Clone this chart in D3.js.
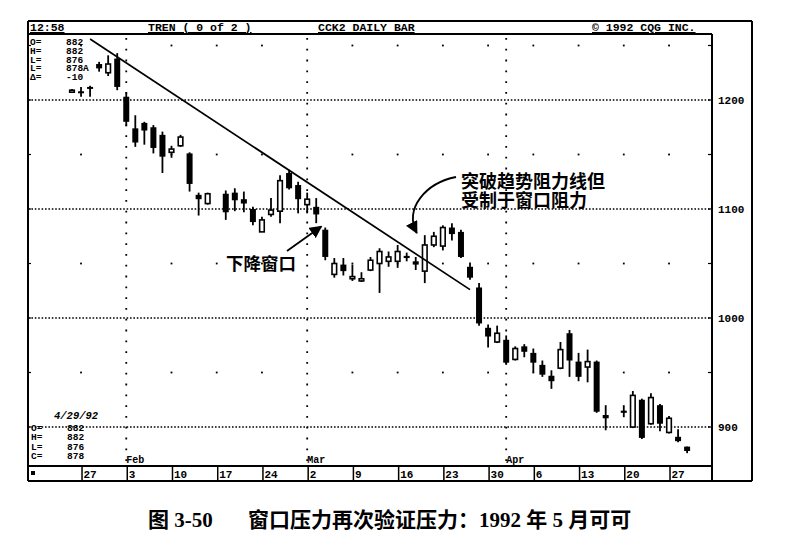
<!DOCTYPE html>
<html>
<head>
<meta charset="utf-8">
<script src="https://cdn.jsdelivr.net/npm/d3@7"></script>
<style>
body { margin:0; background:#fff; }
svg { display:block; }
.mono { font-family: "Liberation Mono", "DejaVu Sans Mono", monospace; font-weight: bold; fill: #000; }
.cjk { font-family: "Noto Sans CJK SC", sans-serif; font-weight: bold; fill: #000; }
</style>
</head>
<body>
<svg id="chart" width="795" height="548"></svg>
<script>
// daily bars, CCK2 (May cocoa)
var dates = ["1992-01-24","1992-01-27","1992-01-28","1992-01-29","1992-01-30","1992-01-31",
  "1992-02-03","1992-02-04","1992-02-05","1992-02-06","1992-02-07",
  "1992-02-10","1992-02-11","1992-02-12","1992-02-13","1992-02-14",
  "1992-02-18","1992-02-19","1992-02-20","1992-02-21",
  "1992-02-24","1992-02-25","1992-02-26","1992-02-27","1992-02-28",
  "1992-03-02","1992-03-03","1992-03-04","1992-03-05","1992-03-06",
  "1992-03-09","1992-03-10","1992-03-11","1992-03-12","1992-03-13",
  "1992-03-16","1992-03-17","1992-03-18","1992-03-19","1992-03-20",
  "1992-03-23","1992-03-24","1992-03-25","1992-03-26","1992-03-27",
  "1992-03-30","1992-03-31","1992-04-01","1992-04-02","1992-04-03",
  "1992-04-06","1992-04-07","1992-04-08","1992-04-09","1992-04-10",
  "1992-04-13","1992-04-14","1992-04-15","1992-04-16",
  "1992-04-20","1992-04-21","1992-04-22","1992-04-23","1992-04-24",
  "1992-04-27","1992-04-28","1992-04-29"];
var opens  = [1209,1208,1212,1233,1225,1238, 1203,1174,1179,1175,1168, 1152,1158,1151,1113,1105,
  1114,1115,1109,1100, 1079,1095,1098,1133,1122, 1104,1102,1081,1040,1049, 1036,1034,1044,1050,1052,
  1052,1057,1052,1043,1067, 1066,1083,1079,1047,1028, 991,978,980,962,974, 968,957,947,954,986,
  960,955,960,911, 915,900,925,903,920, 895,891,882];
var highs  = [1210,1212,1213,1235,1241,1243, 1207,1186,1180,1177,1171, 1158,1168,1152,1115,1115,
  1117,1119,1116,1102, 1093,1110,1131,1136,1125, 1115,1110,1083,1055,1055, 1049,1042,1056,1064,1061,
  1067,1060,1056,1076,1079, 1085,1087,1081,1051,1032, 994,993,984,974,976, 972,961,952,978,989,
  968,971,961,920, 920,933,926,931,921, 910,898,882];
var lows   = [1208,1203,1203,1226,1222,1209, 1176,1157,1159,1151,1133, 1147,1157,1116,1094,1104,
  1090,1098,1097,1085, 1079,1093,1087,1118,1096, 1096,1087,1053,1037,1039, 1034,1033,1043,1023,1047,
  1046,1052,1044,1032,1065, 1062,1071,1055,1035,993, 973,977,957,961,964, 950,946,935,953,946,
  942,941,913,897, 909,899,889,902,896, 894,886,876];
var closes = [1209,1207,1211,1229,1233,1212, 1180,1161,1172,1156,1148, 1155,1166,1123,1109,1114,
  1097,1108,1105,1088, 1090,1099,1126,1119,1109, 1109,1095,1056,1050,1043, 1038,1036,1053,1061,1056,
  1061,1055,1049,1067,1075, 1083,1077,1056,1037,995, 983,986,959,972,969, 959,948,942,971,961,
  946,960,914,908, 913,929,890,927,903, 908,887,878];

var priceTicks = [900, 1000, 1100, 1200];
var halfTicks = [950, 1050, 1150, 1250];
var weekDates = ["1992-01-27","1992-02-03","1992-02-10","1992-02-17","1992-02-24","1992-03-02",
  "1992-03-09","1992-03-16","1992-03-23","1992-03-30","1992-04-06","1992-04-13","1992-04-20","1992-04-27"];
var weekLabels = ["27","3","10","17","24","2","9","16","23","30","6","13","20","27"];
var monthDates = ["1992-02-03","1992-03-02","1992-04-01"];
var monthLabels = ["Feb","Mar","Apr"];
var trendDates = ["1992-01-28","1992-03-26"];
var trendPrices = [1256, 1026];
var lastBar = ["882","882","876","878"];

var svg = d3.select("#chart");
var pL = 28, pR = 712, pT = 34, pB = 466, outR = 752, outT = 21, outB = 481;

// every weekday on the axis, holidays keep their slot
var parse = d3.utcParse("%Y-%m-%d"), fmt = d3.utcFormat("%Y-%m-%d");
var weekdays = d3.utcDays(parse("1992-01-20"), parse("1992-05-02"))
  .filter(function(d){ return d.getUTCDay() % 6 !== 0; }).map(fmt);

var x = d3.scalePoint().domain(weekdays).range([35.8, 705.2]);
var y = d3.scaleLinear().domain([900, 1200]).range([427, 100]);

var bars = dates.map(function(d, i){
  return {date:d, o:opens[i], h:highs[i], l:lows[i], c:closes[i]};
});

svg.append("clipPath").attr("id","plotclip").append("rect")
  .attr("x", pL).attr("y", pT).attr("width", pR-pL).attr("height", pB-pT);

// grid
var grid = svg.append("g");
grid.selectAll("line.h").data(priceTicks).enter().append("line")
  .attr("x1", pL).attr("x2", pR)
  .attr("y1", function(d){ return y(d); }).attr("y2", function(d){ return y(d); })
  .attr("stroke","#000").attr("stroke-width",1.6).attr("stroke-dasharray","1.6,1.8");
grid.selectAll("line.m").data(monthDates).enter().append("line")
  .attr("x1", function(d){ return x(d); }).attr("x2", function(d){ return x(d); })
  .attr("y1", pT+4).attr("y2", pB)
  .attr("stroke","#000").attr("stroke-width",1.8).attr("stroke-dasharray","1.8,9");

var dots = [];
halfTicks.forEach(function(p){
  weekDates.forEach(function(w){ if (monthDates.indexOf(w) < 0) dots.push([w, p]); });
});
grid.selectAll("rect.dot").data(dots).enter().append("rect")
  .attr("x", function(d){ return x(d[0]) - 0.9; })
  .attr("y", function(d){ return y(d[1]) - 0.9; })
  .attr("width",1.8).attr("height",1.8).attr("fill","#000")
  .attr("clip-path","url(#plotclip)");

// border ticks
var tickVals = halfTicks.concat(priceTicks);
svg.selectAll("line.tk").data(tickVals).enter().append("line")
  .attr("x1", pR-4).attr("x2", pR)
  .attr("y1", function(d){ return y(d); }).attr("y2", function(d){ return y(d); })
  .attr("stroke","#000").attr("stroke-width",1.2);
svg.selectAll("line.tkl").data(tickVals).enter().append("line")
  .attr("x1", pL).attr("x2", pL+3)
  .attr("y1", function(d){ return y(d); }).attr("y2", function(d){ return y(d); })
  .attr("stroke","#000").attr("stroke-width",1.2);

// candles
var candles = svg.append("g").attr("clip-path","url(#plotclip)");
var c = candles.selectAll("g").data(bars).enter().append("g");
c.append("line")
  .attr("x1", function(d){ return x(d.date); }).attr("x2", function(d){ return x(d.date); })
  .attr("y1", function(d){ return y(d.h); }).attr("y2", function(d){ return y(d.l); })
  .attr("stroke","#000").attr("stroke-width",1.8);
c.append("rect")
  .attr("x", function(d){ return x(d.date) - (d.c < d.o ? 3 : 2.3); })
  .attr("width", function(d){ return d.c < d.o ? 6 : 4.6; })
  .attr("y", function(d){ return y(Math.max(d.o, d.c)); })
  .attr("height", function(d){ return Math.max(Math.abs(y(d.o) - y(d.c)), 2); })
  .attr("fill", function(d){ return d.c < d.o ? "#000" : "#fff"; })
  .attr("stroke","#000").attr("stroke-width", function(d){ return d.c < d.o ? 0 : 1.6; });

// trend line
svg.append("line")
  .attr("x1", x(trendDates[0])).attr("y1", y(trendPrices[0]))
  .attr("x2", x(trendDates[1])).attr("y2", y(trendPrices[1]))
  .attr("stroke","#000").attr("stroke-width",1.7);

// frame
var frame = svg.append("g").attr("fill","none").attr("stroke","#000").attr("stroke-width",2);
frame.append("line").attr("x1",pL).attr("x2",outR).attr("y1",outT).attr("y2",outT);
frame.append("line").attr("x1",pL).attr("x2",pR).attr("y1",pT).attr("y2",pT);
frame.append("line").attr("x1",pL).attr("x2",pL).attr("y1",outT).attr("y2",outB);
frame.append("line").attr("x1",outR).attr("x2",outR).attr("y1",outT).attr("y2",outB);
frame.append("line").attr("x1",pR).attr("x2",pR).attr("y1",pT).attr("y2",outB);
frame.append("line").attr("x1",pL).attr("x2",pR).attr("y1",pB).attr("y2",pB);
frame.append("line").attr("x1",pL).attr("x2",outR).attr("y1",outB).attr("y2",outB);

// header
var header = [["12:58",30],["TREN ( 0 of 2 )",148],["CCK2 DAILY BAR",318],["\u00a9 1992 CQG INC.",592]];
svg.selectAll("text.hd").data(header).enter().append("text")
  .attr("class","mono").attr("x", function(d){ return d[1]; }).attr("y", 31)
  .style("font-size","11.5px").attr("text-decoration","underline")
  .text(function(d){ return d[0]; });

// price labels
svg.selectAll("text.pl").data(priceTicks).enter().append("text")
  .attr("class","mono").attr("x", 718).attr("y", function(d){ return y(d) + 4; })
  .style("font-size","11px").text(function(d){ return d; });

// week axis band
var band = svg.append("g");
band.selectAll("line").data(weekDates).enter().append("line")
  .attr("x1", function(d){ return x(d) + 1; }).attr("x2", function(d){ return x(d) + 1; })
  .attr("y1", pB).attr("y2", outB).attr("stroke","#000").attr("stroke-width",1.5);
band.selectAll("text").data(weekLabels).enter().append("text")
  .attr("class","mono").attr("x", function(d, i){ return x(weekDates[i]) + 2.5; })
  .attr("y", 478).style("font-size","11px").text(function(d){ return d; });
band.append("rect").attr("x",31).attr("y",471).attr("width",4).attr("height",4).attr("fill","#000");

svg.selectAll("text.mo").data(monthLabels).enter().append("text")
  .attr("class","mono").attr("x", function(d, i){ return x(monthDates[i]); })
  .attr("y", 463).style("font-size","10px").text(function(d){ return d; });

// info boxes
var topInfo = [["O=","882"],["H=","882"],["L=","876"],["L=","878A"],["\u0394=","-10"]];
var ti = svg.append("g");
topInfo.forEach(function(r, i){
  ti.append("text").attr("class","mono").attr("x",30).attr("y",45 + i*8.8).style("font-size","9.5px").text(r[0]);
  ti.append("text").attr("class","mono").attr("x",66).attr("y",45 + i*8.8).style("font-size","9.5px").text(r[1]);
});
var bi = svg.append("g");
bi.append("text").attr("class","mono").attr("x",54).attr("y",419).style("font-size","10.5px")
  .style("font-style","italic").text("4/29/92");
["O=","H=","L=","C="].forEach(function(l, i){
  bi.append("text").attr("class","mono").attr("x",31).attr("y",431 + i*9.3).style("font-size","9.5px").text(l);
  bi.append("text").attr("class","mono").attr("x",67).attr("y",431 + i*9.3).style("font-size","9.5px").text(lastBar[i]);
});

// annotations
svg.append("defs").append("marker").attr("id","ah")
  .attr("viewBox","0 0 10 10").attr("refX",9).attr("refY",5)
  .attr("markerWidth",7).attr("markerHeight",7).attr("orient","auto")
  .append("path").attr("d","M0,0L10,5L0,10z").attr("fill","#000");

svg.append("text").attr("class","cjk").attr("x",226).attr("y",270)
  .style("font-size","17.5px").text("下降窗口");
svg.append("line").attr("x1",287).attr("y1",251).attr("x2",x("1992-03-04") - 4).attr("y2",y(1084))
  .attr("stroke","#000").attr("stroke-width",1.8).attr("marker-end","url(#ah)");

svg.append("text").attr("class","cjk").attr("x",461).attr("y",188)
  .style("font-size","18px").text("突破趋势阻力线但");
svg.append("text").attr("class","cjk").attr("x",461).attr("y",207)
  .style("font-size","18px").text("受制于窗口阻力");
svg.append("path").attr("d","M456,177 C426,183 404,208 " + (x("1992-03-19") - 8) + "," + y(1078))
  .attr("fill","none").attr("stroke","#000").attr("stroke-width",1.8).attr("marker-end","url(#ah)");

// caption
var capFont = '"Liberation Serif", "Noto Sans CJK SC", serif';
svg.append("text").attr("x",148).attr("y",527)
  .style("font-family",capFont).style("font-weight","bold").style("font-size","21px")
  .text("图 3-50");
svg.append("text").attr("x",248).attr("y",527)
  .style("font-family",capFont).style("font-weight","bold").style("font-size","21px")
  .text("窗口压力再次验证压力：1992 年 5 月可可");
</script>
</body>
</html>
